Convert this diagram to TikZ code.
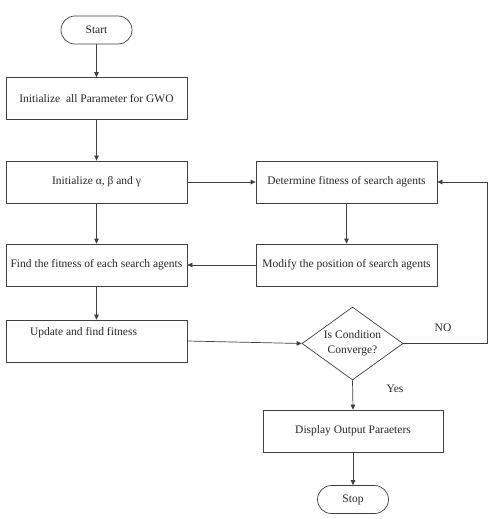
\documentclass[tikz,border=0pt]{standalone}
\usepackage{fontspec}
\setmainfont{Liberation Serif}
\usetikzlibrary{shapes.geometric,arrows.meta}
\begin{document}
\begin{tikzpicture}[x=1pt,y=-1pt,
  every node/.style={font=\fontsize{11.5}{13}\selectfont, text=black!85},
  boxstyle/.style={draw=black!75, line width=0.7pt, minimum width=181pt, minimum height=42pt, inner sep=1pt},
  termstyle/.style={draw=black!75, line width=0.7pt, rounded corners=14pt, minimum width=71pt, minimum height=28pt, inner sep=1pt},
  decstyle/.style={draw=black!75, line width=0.7pt, diamond, minimum width=101pt, minimum height=73pt, inner sep=-10pt, align=center, font=\fontsize{11.5}{15}\selectfont},
  arr/.style={draw=black!75, line width=0.7pt, -{Triangle[length=5pt,width=4.5pt]}},
  ln/.style={draw=black!75, line width=0.7pt}]
\useasboundingbox (0,0) rectangle (489,519);
\node[termstyle] (start) at (96.5,30) {Start};
\node[boxstyle] (init) at (96.5,98.5) {Initialize\ \ all Parameter for GWO};
\node[boxstyle] (abg) at (96.5,182) {Initialize α, β and γ};
\node[boxstyle] (find) at (96.5,265) {Find the fitness of each search agents};
\node[boxstyle, label={[xshift=-13pt,yshift=8pt,font=\fontsize{11.5}{13}\selectfont]center:Update and find fitness}] (upd) at (96.5,341) {};
\node[boxstyle] (det) at (346.5,182) {Determine fitness of search agents};
\node[boxstyle] (mod) at (346.5,265) {Modify the position of search agents};
\node[decstyle] (dec) at (352.5,343.5) {Is Condition\\Converge?};
\node[boxstyle, minimum width=180pt] (disp) at (353,431) {Display Output Paraeters};
\node[termstyle] (stop) at (353,499.5) {Stop};
\node (no) at (443,328) {NO};
\node (yes) at (395,389) {Yes};
\coordinate (c1) at (487,343.5);
\coordinate (c2) at (487,182);
\draw[arr] (start) -- (init);
\draw[arr] (init) -- (abg);
\draw[arr] (abg) -- (find);
\draw[arr] (find) -- (upd);
\draw[arr] (abg) -- (det);
\draw[arr] (det) -- (mod);
\draw[arr] (mod) -- (find);
\draw[arr] (upd.east) -- (dec.west);
\draw[arr] (dec.east) -- (c1) -- (c2) -- (det.east);
\draw[arr] (dec.south) -- (disp.north);
\draw[arr] (disp) -- (stop);
\end{tikzpicture}
\end{document}
